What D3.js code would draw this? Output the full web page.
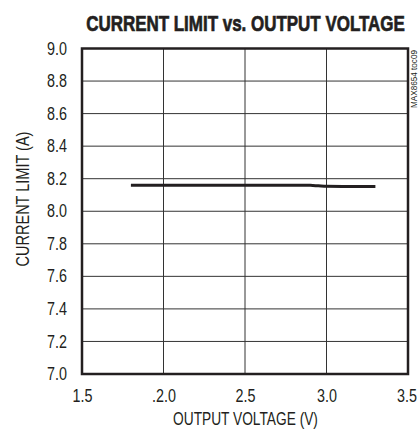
<!DOCTYPE html>
<html><head><meta charset="utf-8">
<script src="https://cdn.jsdelivr.net/npm/d3@7/dist/d3.min.js"></script>
<style>
html,body{margin:0;padding:0;background:#fff;}
svg{display:block;}
</style></head>
<body>
<svg id="chart" width="419" height="432"></svg>
<script>
const title = "CURRENT LIMIT vs. OUTPUT VOLTAGE";
const xLabel = "OUTPUT VOLTAGE (V)";
const yLabel = "CURRENT LIMIT (A)";
const watermark = "MAX8654 toc09";
const xTicks = [1.5, 2.0, 2.5, 3.0, 3.5];
const xTickLabels = ["1.5", ".2.0", "2.5", "3.0", "3.5"];
const yTicks = [7.0, 7.2, 7.4, 7.6, 7.8, 8.0, 8.2, 8.4, 8.6, 8.8, 9.0];
const voltage = [1.8, 2.0, 2.2, 2.4, 2.6, 2.8, 2.9, 2.95, 3.0, 3.1, 3.2, 3.3];
const current = [8.160, 8.160, 8.160, 8.160, 8.160, 8.160, 8.159, 8.156, 8.153, 8.152, 8.152, 8.152];

const svg = d3.select("#chart");
const L = 82, R = 408, T = 48.5, B = 374;
const x = d3.scaleLinear().domain([1.5, 3.5]).range([L, R]);
const y = d3.scaleLinear().domain([7.0, 9.0]).range([B, T]);
const font = "'Liberation Sans Narrow', 'Arial Narrow', 'Liberation Sans', Arial, sans-serif";
const ink = "#231f20";
const SX = 0.82;

// grid
svg.append("g").selectAll("line").data(xTicks.slice(1, -1)).join("line")
  .attr("x1", d => x(d)).attr("x2", d => x(d)).attr("y1", T).attr("y2", B)
  .attr("stroke", "#333").attr("stroke-width", 1);
svg.append("g").selectAll("line").data(yTicks.slice(1, -1)).join("line")
  .attr("y1", d => y(d)).attr("y2", d => y(d)).attr("x1", L).attr("x2", R)
  .attr("stroke", "#333").attr("stroke-width", 1);

// data line
svg.append("path").datum(voltage.map((v, i) => [v, current[i]]))
  .attr("d", d3.line().x(d => x(d[0])).y(d => y(d[1])).curve(d3.curveMonotoneX))
  .attr("fill", "none").attr("stroke", ink).attr("stroke-width", 3);

// frame
svg.append("rect").attr("x", L).attr("y", T).attr("width", R - L).attr("height", B - T)
  .attr("fill", "none").attr("stroke", ink).attr("stroke-width", 2.5);

// axes
const yAxis = d3.axisLeft(y).tickValues(yTicks).tickFormat(d3.format(".1f")).tickSize(0).tickPadding(15);
const gy = svg.append("g").attr("transform", `translate(${L},0)`).call(yAxis);
gy.select(".domain").remove();
gy.selectAll("text").attr("font-family", font).attr("font-size", 17.5).attr("fill", ink)
  .attr("x", -15 / SX).attr("transform", `scale(${SX},1)`);

const xAxis = d3.axisBottom(x).tickValues(xTicks).tickFormat((d, i) => xTickLabels[i]).tickSize(0).tickPadding(16);
const gx = svg.append("g").attr("transform", `translate(0,${B})`).call(xAxis);
gx.select(".domain").remove();
gx.selectAll("text").attr("font-family", font).attr("font-size", 17.5).attr("fill", ink)
  .attr("transform", `scale(${SX},1)`);
gx.selectAll(".tick").filter(d => d === 3.5).select("text").attr("x", -1.5 / SX);

// title (horizontally condensed via scale)
const tt = svg.append("text").attr("text-anchor", "middle")
  .attr("font-family", font).attr("font-weight", "bold").attr("font-size", 22)
  .attr("fill", ink).attr("stroke", ink).attr("stroke-width", 0.7).text(title);
const tw = tt.node().getComputedTextLength();
tt.attr("transform", `translate(245.5,30.5) scale(${319 / tw},1)`);

// x label
const xl = svg.append("text").attr("text-anchor", "middle")
  .attr("font-family", font).attr("font-size", 17.5).attr("fill", ink).text(xLabel);
xl.attr("transform", `translate(245.5,425) scale(${145 / xl.node().getComputedTextLength()},1)`);

// y label
const yl = svg.append("text").attr("text-anchor", "middle")
  .attr("font-family", font).attr("font-size", 17.5).attr("fill", ink).text(yLabel);
yl.attr("transform", `translate(29,199) rotate(-90) scale(${135 / yl.node().getComputedTextLength()},1)`);

// watermark
const wm = svg.append("text").attr("text-anchor", "end")
  .attr("font-family", font).attr("font-size", 8.5).attr("fill", ink).text(watermark);
wm.attr("transform", `translate(417,50) rotate(-90) scale(${58 / wm.node().getComputedTextLength()},1)`);
</script>
</body></html>
